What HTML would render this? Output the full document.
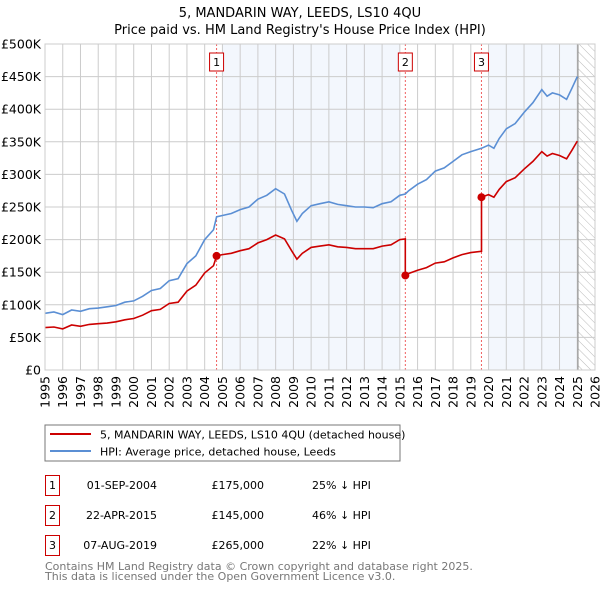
<!DOCTYPE html>
<html><head><meta charset="utf-8"><style>
body{margin:0;background:#fff;}
svg{display:block;font-family:"DejaVu Sans","Liberation Sans",sans-serif;}
</style></head><body>
<svg id="chart" width="600" height="590" viewBox="0 0 600 590">
<text x="300" y="17" text-anchor="middle" font-size="13">5, MANDARIN WAY, LEEDS, LS10 4QU</text>
<text x="300" y="34" text-anchor="middle" font-size="13">Price paid vs. HM Land Registry's House Price Index (HPI)</text>
<defs><pattern id="hatch" width="6" height="6" patternUnits="userSpaceOnUse" patternTransform="rotate(-45)"><line x1="0" y1="0" x2="0" y2="6" stroke="#bbb" stroke-width="1"/></pattern></defs>
<g id="plot"></g>
<rect x="45" y="425" width="355" height="36" fill="#fff" stroke="#777"/>
<line x1="50" y1="434" x2="91" y2="434" stroke="#cc0000" stroke-width="2"/>
<text x="100" y="438.5" font-size="11">5, MANDARIN WAY, LEEDS, LS10 4QU (detached house)</text>
<line x1="50" y1="451" x2="91" y2="451" stroke="#5b8fd4" stroke-width="2"/>
<text x="100" y="455.5" font-size="11">HPI: Average price, detached house, Leeds</text>
<g font-size="11">
<rect x="45.5" y="475.5" width="14" height="20" fill="none" stroke="#cc0000"/>
<text x="52.5" y="489" text-anchor="middle">1</text>
<text x="157" y="489" text-anchor="end">01-SEP-2004</text>
<text x="264" y="489" text-anchor="end">£175,000</text>
<text x="312" y="489">25% ↓ HPI</text>
<rect x="45.5" y="505.5" width="14" height="20" fill="none" stroke="#cc0000"/>
<text x="52.5" y="519" text-anchor="middle">2</text>
<text x="157" y="519" text-anchor="end">22-APR-2015</text>
<text x="264" y="519" text-anchor="end">£145,000</text>
<text x="312" y="519">46% ↓ HPI</text>
<rect x="45.5" y="535.5" width="14" height="20" fill="none" stroke="#cc0000"/>
<text x="52.5" y="549" text-anchor="middle">3</text>
<text x="157" y="549" text-anchor="end">07-AUG-2019</text>
<text x="264" y="549" text-anchor="end">£265,000</text>
<text x="312" y="549">22% ↓ HPI</text>
</g>
<text x="45" y="570" font-size="11" fill="#777">Contains HM Land Registry data © Crown copyright and database right 2025.</text>
<text x="45" y="580" font-size="11" fill="#777">This data is licensed under the Open Government Licence v3.0.</text>
</svg>
<script>
const yTicks=[0,50000,100000,150000,200000,250000,300000,350000,400000,450000,500000];
const yTickLabels=["£0","£50K","£100K","£150K","£200K","£250K","£300K","£350K","£400K","£450K","£500K"];
const xYears=[1995,1996,1997,1998,1999,2000,2001,2002,2003,2004,2005,2006,2007,2008,2009,2010,2011,2012,2013,2014,2015,2016,2017,2018,2019,2020,2021,2022,2023,2024,2025,2026];
const hpiDates=[1995,1995.5,1996,1996.5,1997,1997.5,1998,1998.5,1999,1999.5,2000,2000.5,2001,2001.5,2002,2002.5,2003,2003.5,2004,2004.5,2004.67,2005,2005.5,2006,2006.5,2007,2007.5,2008,2008.5,2008.9,2009.2,2009.5,2010,2010.5,2011,2011.5,2012,2012.5,2013,2013.5,2014,2014.5,2015,2015.31,2015.5,2016,2016.5,2017,2017.5,2018,2018.5,2019,2019.6,2020,2020.3,2020.6,2021,2021.5,2022,2022.5,2023,2023.3,2023.6,2024,2024.4,2024.7,2025];
const hpiValues=[87,89,85,92,90,94,95,97,99,104,106,113,122,125,137,140,163,175,200,215,235,237,240,246,250,262,268,278,270,245,228,240,252,255,258,254,252,250,250,249,255,258,268,270,275,285,292,305,310,320,330,335,340,345,340,355,370,378,395,410,430,420,425,422,415,432,450];
const propDates=[1995,1995.5,1996,1996.5,1997,1997.5,1998,1998.5,1999,1999.5,2000,2000.5,2001,2001.5,2002,2002.5,2003,2003.5,2004,2004.5,2004.67,2005,2005.5,2006,2006.5,2007,2007.5,2008,2008.5,2008.9,2009.2,2009.5,2010,2010.5,2011,2011.5,2012,2012.5,2013,2013.5,2014,2014.5,2015,2015.31,2015.31,2015.5,2016,2016.5,2017,2017.5,2018,2018.5,2019,2019.6,2019.6,2020,2020.3,2020.6,2021,2021.5,2022,2022.5,2023,2023.3,2023.6,2024,2024.4,2024.7,2025];
const propValues=[65,66,63,69,67,70,71,72,74,77,79,84,91,93,102,104,121,130,149,160,175,177,179,183,186,195,200,207,201,183,170,179,188,190,192,189,188,186,186,186,190,192,200,201,145,148,153,157,164,166,172,177,180,182,265,269,265,277,289,295,308,320,335,328,332,329,324,337,351];
const saleDates=[2004.67,2015.31,2019.6];
const salePrices=[175000,145000,265000];
const saleLabels=["1","2","3"];

const L=45,R=595,T=44,B=370;
const xs=y=>L+(y-1995)/31*(R-L);
const ys=v=>B-v/500000*(B-T);
const NS="http://www.w3.org/2000/svg";
const g=document.getElementById('plot');
function mk(tag,attrs){const e=document.createElementNS(NS,tag);for(const k in attrs)e.setAttribute(k,attrs[k]);g.appendChild(e);return e;}

let e;
e=mk('rect',{x:xs(2005),y:T,width:xs(2015)-xs(2005),height:B-T,fill:'#eef3fc',opacity:0.7});


e=mk('rect',{x:xs(2020),y:T,width:xs(2025)-xs(2020),height:B-T,fill:'#eef3fc',opacity:0.7});


e=mk('rect',{x:xs(2025.04),y:T,width:R-xs(2025.04),height:B-T,fill:'url(#hatch)'});



yTicks.forEach((v,i)=>{
 e=mk('line',{x1:L,x2:R,y1:ys(v),y2:ys(v),stroke:'#ccc','stroke-width':1});
 
 
 e=mk('text',{x:L-4,y:ys(v)+4.5,'text-anchor':'end','font-size':12.5});
 e.textContent=yTickLabels[i];
 
 
});
xYears.forEach(yr=>{
 e=mk('line',{x1:xs(yr),x2:xs(yr),y1:T,y2:B,stroke:'#ccc','stroke-width':1});
 
 
 e=mk('text',{x:0,y:0,'font-size':12.5,'text-anchor':'end',transform:`translate(${xs(yr)+4.5},${B+6}) rotate(-90)`});
 e.textContent=yr;
 
 
});
e=mk('line',{x1:xs(2025.04),x2:xs(2025.04),y1:T,y2:B,stroke:'#888','stroke-width':1});



saleDates.forEach((d,i)=>{
 e=mk('line',{x1:xs(d),x2:xs(d),y1:T,y2:B,stroke:'#f06060','stroke-width':1,'stroke-dasharray':'2,2'});
 
 
});

e=mk('path',{d:hpiDates.map((d,i)=>(i?'L':'M')+xs(d).toFixed(1)+' '+ys(hpiValues[i]*1000).toFixed(1)).join(''),fill:'none',stroke:'#5b8fd4','stroke-width':1.6});


e=mk('path',{d:propDates.map((d,i)=>(i?'L':'M')+xs(d).toFixed(1)+' '+ys(propValues[i]*1000).toFixed(1)).join(''),fill:'none',stroke:'#cc0000','stroke-width':1.6});



saleDates.forEach((d,i)=>{
 e=mk('circle',{cx:xs(d),cy:ys(salePrices[i]),r:4,fill:'#cc0000'});
 
 
 e=mk('rect',{x:xs(d)-7,y:53,width:14,height:18,fill:'#fff',stroke:'#cc0000'});
 
 
 e=mk('text',{x:xs(d),y:66,'text-anchor':'middle','font-size':11});
 e.textContent=saleLabels[i];
 
 
});
e=mk('rect',{x:L,y:T,width:R-L,height:B-T,fill:'none',stroke:'#ccc'});


</script>
</body></html>
